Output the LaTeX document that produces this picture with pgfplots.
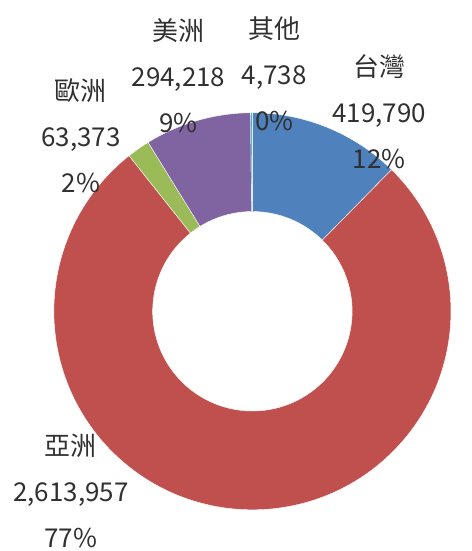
\documentclass[border=0pt]{standalone}
\usepackage{pgfplots}
\pgfplotsset{compat=1.18}
\usepackage{pgfplotstable}
\usepackage{fontspec}
\setmainfont{Noto Sans CJK TC}
\definecolor{cTW}{HTML}{4F81BD}
\definecolor{cAS}{HTML}{C0504D}
\definecolor{cEU}{HTML}{9BBB59}
\definecolor{cAM}{HTML}{8064A2}
\definecolor{cOT}{HTML}{4BACC6}
\definecolor{txt}{HTML}{303030}

% region, value, colour (clockwise from 12 o'clock)
\pgfplotstableread{
region value col
TW 419790 cTW
AS 2613957 cAS
EU 63373 cEU
AM 294218 cAM
OT 4738 cOT
}\datatable

\begin{document}
\begin{tikzpicture}
\begin{axis}[
  scale only axis, width=452pt, height=551pt,
  xmin=0, xmax=452, ymin=0, ymax=551,
  hide axis, clip=false]
\path (rel axis cs:0,0) rectangle (rel axis cs:1,1);
\pgfplotsextra{%
  \def\cx{253}\def\cy{239}\def\Rout{199}\def\Rin{100}%
  \gdef\total{0}%
  \foreach \i in {0,...,4}{%
    \pgfplotstablegetelem{\i}{value}\of\datatable
    \xdef\total{\fpeval{\total+\pgfplotsretval}}%
  }%
  \gdef\acur{90}%
  \foreach \i in {0,...,4}{%
    \pgfplotstablegetelem{\i}{value}\of\datatable
    \edef\val{\pgfplotsretval}%
    \pgfplotstablegetelem{\i}{col}\of\datatable
    \edef\col{\pgfplotsretval}%
    \edef\anext{\fpeval{round(\acur-360*\val/\total,4)}}%
    \fill[fill=\col, draw=white, line width=0.4pt]
      ([shift={(\acur:\Rout pt)}]axis cs:\cx,\cy)
      arc[start angle=\acur, end angle=\anext, radius=\Rout pt]
      -- ([shift={(\anext:\Rin pt)}]axis cs:\cx,\cy)
      arc[start angle=\anext, end angle=\acur, radius=\Rin pt]
      -- cycle;
    \xdef\acur{\anext}%
  }%
}
\tikzset{lab/.style={align=center, text=txt, font=\fontsize{26}{46}\selectfont}}
\node[lab] at (axis cs:179,475) {美洲\\294,218\\9\%};
\node[lab] at (axis cs:275,477) {其他\\4,738\\0\%};
\node[lab] at (axis cs:380,439) {台灣\\419,790\\12\%};
\node[lab] at (axis cs:81,415) {歐洲\\63,373\\2\%};
\node[lab] at (axis cs:71,59) {亞洲\\2,613,957\\77\%};
\end{axis}
\end{tikzpicture}
\end{document}
